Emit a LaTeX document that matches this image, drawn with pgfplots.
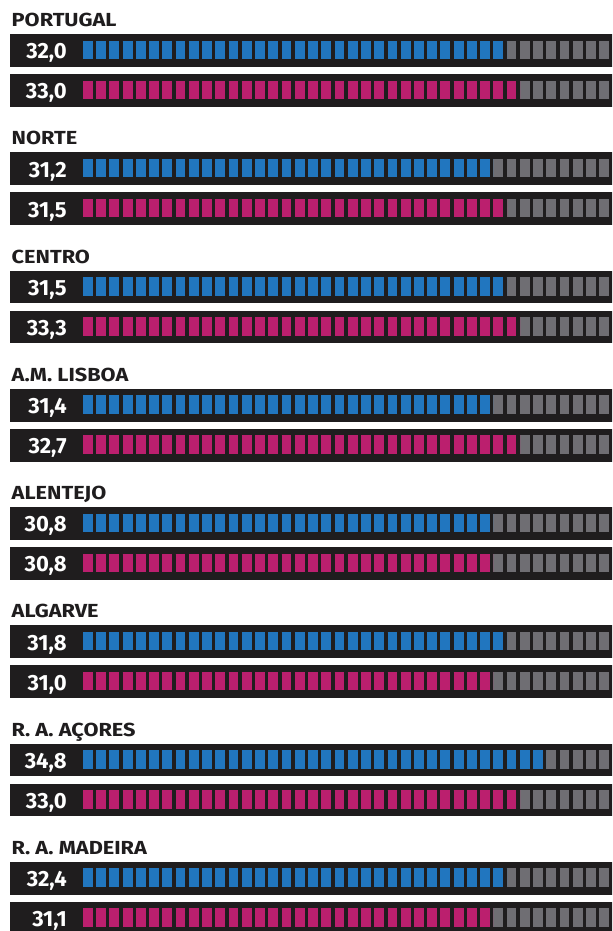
\documentclass[border=0pt]{standalone}
\usepackage{pgfplots}
\pgfplotsset{compat=1.18}
\usepackage{pgfplotstable}
\usepackage{fontspec}
\setmainfont{Fira Sans}
\newfontfamily\titlefont{Fira Sans}[FakeStretch=1.15]
\newfontfamily\valfont{Fira Sans}
\definecolor{cblue}{HTML}{2176BF}
\definecolor{cmag}{HTML}{BB1F6E}
\definecolor{cgray}{HTML}{6F6E73}
\definecolor{cdark}{HTML}{1F1D1E}
\pgfplotstableread[col sep=comma]{
g,name,blue,magenta,nb,nm
0,PORTUGAL,32.0,33.0,32,33
1,NORTE,31.2,31.5,31,32
2,CENTRO,31.5,33.3,32,33
3,A.M. LISBOA,31.4,32.7,31,33
4,ALENTEJO,30.8,30.8,31,31
5,ALGARVE,31.8,31.0,32,31
6,R. A. AÇORES,34.8,33.0,35,33
7,R. A. MADEIRA,32.4,31.1,32,31
}\data
\def\gp{118.24}
\begin{document}
\begin{tikzpicture}
\begin{axis}[
  x=13.24bp, y=1bp, y dir=reverse,
  xmin=-6.269, xmax=39.955, ymin=0, ymax=931,
  enlargelimits=false, hide axis, clip=true,
  /pgf/number format/assume math mode=true,
]
% dark strips
\addplot[cdark, line width=32.7bp, -, quiver={u=46,v=0}]
  table[x expr=-5.476, y expr=\thisrow{g}*\gp+50.6] {\data};
\addplot[cdark, line width=32.7bp, -, quiver={u=46,v=0}]
  table[x expr=-5.476, y expr=\thisrow{g}*\gp+90.6] {\data};
% gray squares (40 per bar)
\addplot[cgray, line width=18.3bp, -, dash pattern=on 9.8bp off 3.44bp, quiver={u=40,v=0}]
  table[x expr=0, y expr=\thisrow{g}*\gp+49.9] {\data};
\addplot[cgray, line width=18.3bp, -, dash pattern=on 9.8bp off 3.44bp, quiver={u=40,v=0}]
  table[x expr=0, y expr=\thisrow{g}*\gp+89.9] {\data};
% coloured squares
\addplot[cblue, line width=18.3bp, -, dash pattern=on 9.8bp off 3.44bp, quiver={u=\thisrow{nb},v=0}]
  table[x expr=0, y expr=\thisrow{g}*\gp+49.9] {\data};
\addplot[cmag, line width=18.3bp, -, dash pattern=on 9.8bp off 3.44bp, quiver={u=\thisrow{nm},v=0}]
  table[x expr=0, y expr=\thisrow{g}*\gp+89.9] {\data};
% value labels
\addplot[draw=none, mark=none, point meta=explicit,
  nodes near coords={\pgfmathprintnumber[fixed,fixed zerofill,precision=1,use comma,assume math mode=true]{\pgfplotspointmeta}},
  every node near coord/.append style={anchor=base east, inner sep=0pt, outer sep=0pt, text=white, font=\valfont\fontsize{22bp}{22bp}\selectfont\bfseries}]
  table[x expr=-1.231, y expr=\thisrow{g}*\gp+58.8, meta=blue] {\data};
\addplot[draw=none, mark=none, point meta=explicit,
  nodes near coords={\pgfmathprintnumber[fixed,fixed zerofill,precision=1,use comma,assume math mode=true]{\pgfplotspointmeta}},
  every node near coord/.append style={anchor=base east, inner sep=0pt, outer sep=0pt, text=white, font=\valfont\fontsize{22bp}{22bp}\selectfont\bfseries}]
  table[x expr=-1.231, y expr=\thisrow{g}*\gp+98.8, meta=magenta] {\data};
% region titles
\addplot[draw=none, mark=none, point meta=explicit symbolic,
  nodes near coords,
  every node near coord/.append style={anchor=base west, inner sep=0pt, outer sep=0pt, text=cdark, font=\titlefont\fontsize{18.9bp}{18.9bp}\selectfont\bfseries}]
  table[x expr=-5.385, y expr=\thisrow{g}*\gp+26.7, meta=name] {\data};
\coordinate (bl) at (rel axis cs:0,0);
\coordinate (tr) at (rel axis cs:1,1);
\end{axis}
\pgfresetboundingbox
\useasboundingbox (bl) rectangle (tr);
\end{tikzpicture}
\end{document}
